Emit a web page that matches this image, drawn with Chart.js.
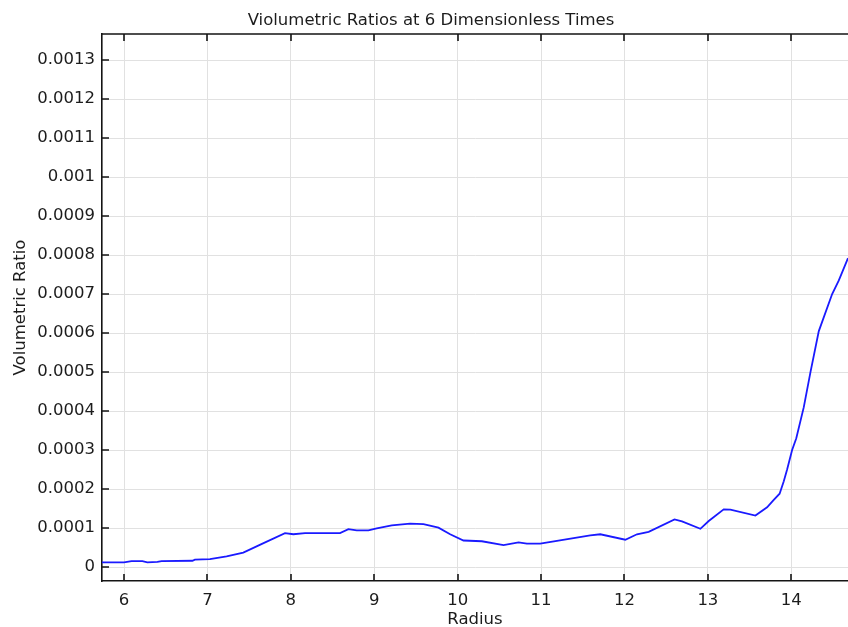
<!DOCTYPE html>
<html>
<head>
<meta charset="utf-8">
<title>Violumetric Ratios</title>
<script src="https://cdn.jsdelivr.net/npm/chart.js@4/dist/chart.umd.min.js"></script>
<style>
  html, body { margin: 0; padding: 0; background: #ffffff; }
  #wrap { width: 848px; height: 627px; }
</style>
</head>
<body>
<div id="wrap"><canvas id="c" width="848" height="627"></canvas></div>
<script>
// Radius samples along the profile
const radius = [
  5.736, 6.00, 6.09, 6.22, 6.28, 6.40, 6.45, 6.82, 6.85, 7.03,
  7.23, 7.43, 7.66, 7.93, 8.03, 8.17, 8.59, 8.69, 8.79, 8.93,
  9.03, 9.21, 9.43, 9.59, 9.77, 9.91, 10.07, 10.29, 10.55, 10.73,
  10.83, 10.99, 11.19, 11.39, 11.59, 11.71, 12.01, 12.15, 12.29, 12.60,
  12.69, 12.91, 13.01, 13.19, 13.27, 13.57, 13.71, 13.79, 13.86, 13.91,
  13.95, 14.01, 14.06, 14.15, 14.23, 14.33, 14.49, 14.57, 14.68
];

// Volumetric ratio at each radius
const ratio = [
  0.000012, 0.000012, 0.000015, 0.000015, 0.000012, 0.000013, 0.000015, 0.000016, 0.000019, 0.000020,
  0.000027, 0.000037, 0.000060, 0.000087, 0.000084, 0.000087, 0.000087, 0.000097, 0.000094, 0.000094,
  0.000099, 0.000107, 0.000111, 0.000110, 0.000101, 0.000084, 0.000068, 0.000066, 0.000056, 0.000063,
  0.000060, 0.000060, 0.000067, 0.000074, 0.000081, 0.000084, 0.000070, 0.000084, 0.000090, 0.000122,
  0.000117, 0.000098, 0.000118, 0.000148, 0.000147, 0.000132, 0.000153, 0.000172, 0.000188, 0.000220,
  0.000250, 0.000300, 0.000330, 0.000410, 0.000500, 0.000605, 0.000700, 0.000735, 0.000792
];

// Axis ranges and tick spacing
const xRange = [5.736, 14.68];
const yRange = [-0.0000359, 0.001367];
const xStep = 1;
const yStep = 0.0001;

const titleText = 'Violumetric Ratios at 6 Dimensionless Times';
const xTitle = 'Radius';
const yTitle = 'Volumetric Ratio';

const FONT = "'DejaVu Sans', 'Liberation Sans', sans-serif";
const INK = '#1c1c1c';
const FRAME = '#141414';
const GRID = '#e1e1e1';

// Frame line along the top, inward tick marks and the chart heading
const framePlugin = {
  id: 'framePlugin',
  afterDraw(chart) {
    const { ctx, chartArea: a, scales: { x, y } } = chart;
    ctx.save();
    ctx.strokeStyle = FRAME;
    ctx.lineWidth = 1.6;
    ctx.beginPath();
    ctx.moveTo(a.left, a.top);
    ctx.lineTo(a.right, a.top);
    x.ticks.forEach(t => {
      const px = Math.round(x.getPixelForValue(t.value));
      ctx.moveTo(px, a.bottom);
      ctx.lineTo(px, a.bottom - 7);
      ctx.moveTo(px, a.top);
      ctx.lineTo(px, a.top + 7);
    });
    y.ticks.forEach(t => {
      const py = Math.round(y.getPixelForValue(t.value));
      ctx.moveTo(a.left, py);
      ctx.lineTo(a.left + 7, py);
    });
    ctx.stroke();

    ctx.fillStyle = INK;
    ctx.font = '16.5px ' + FONT;
    ctx.textAlign = 'center';
    ctx.textBaseline = 'alphabetic';
    ctx.fillText(titleText, 431, 25);
    ctx.restore();
  }
};

const points = radius.map((r, i) => ({ x: r, y: ratio[i] }));

new Chart(document.getElementById('c'), {
  type: 'scatter',
  data: {
    datasets: [{
      data: points,
      showLine: true,
      borderColor: '#1a1aff',
      borderWidth: 1.8,
      pointRadius: 0,
      pointHoverRadius: 0,
      tension: 0,
      fill: false
    }]
  },
  options: {
    responsive: false,
    animation: false,
    devicePixelRatio: 1,
    layout: { padding: { top: 34, left: 0, right: 0, bottom: 0 } },
    plugins: {
      legend: { display: false },
      title: { display: false },
      tooltip: { enabled: false }
    },
    scales: {
      x: {
        type: 'linear',
        min: xRange[0],
        max: xRange[1],
        afterFit(scale) { scale.height = 46; },
        ticks: {
          stepSize: xStep,
          includeBounds: false,
          padding: 10,
          color: INK,
          font: { family: FONT, size: 16.5 },
          maxRotation: 0,
          callback: v => String(v)
        },
        grid: { color: GRID, lineWidth: 1, drawTicks: false },
        border: { display: true, color: FRAME, width: 1.6 },
        title: {
          display: true,
          text: xTitle,
          color: INK,
          font: { family: FONT, size: 16.5 },
          padding: { top: 0, bottom: -2.5 }
        }
      },
      y: {
        type: 'linear',
        min: yRange[0],
        max: yRange[1],
        afterFit(scale) { scale.width = 102; },
        ticks: {
          stepSize: yStep,
          includeBounds: false,
          padding: 7,
          color: INK,
          font: { family: FONT, size: 16.5 },
          callback: v => String(Number(v.toFixed(4)))
        },
        grid: { color: GRID, lineWidth: 1, drawTicks: false },
        border: { display: true, color: FRAME, width: 1.6 },
        title: {
          display: true,
          text: yTitle,
          color: INK,
          font: { family: FONT, size: 16.5 },
          padding: { top: 11, bottom: 0 }
        }
      }
    }
  },
  plugins: [framePlugin]
});
</script>
</body>
</html>
